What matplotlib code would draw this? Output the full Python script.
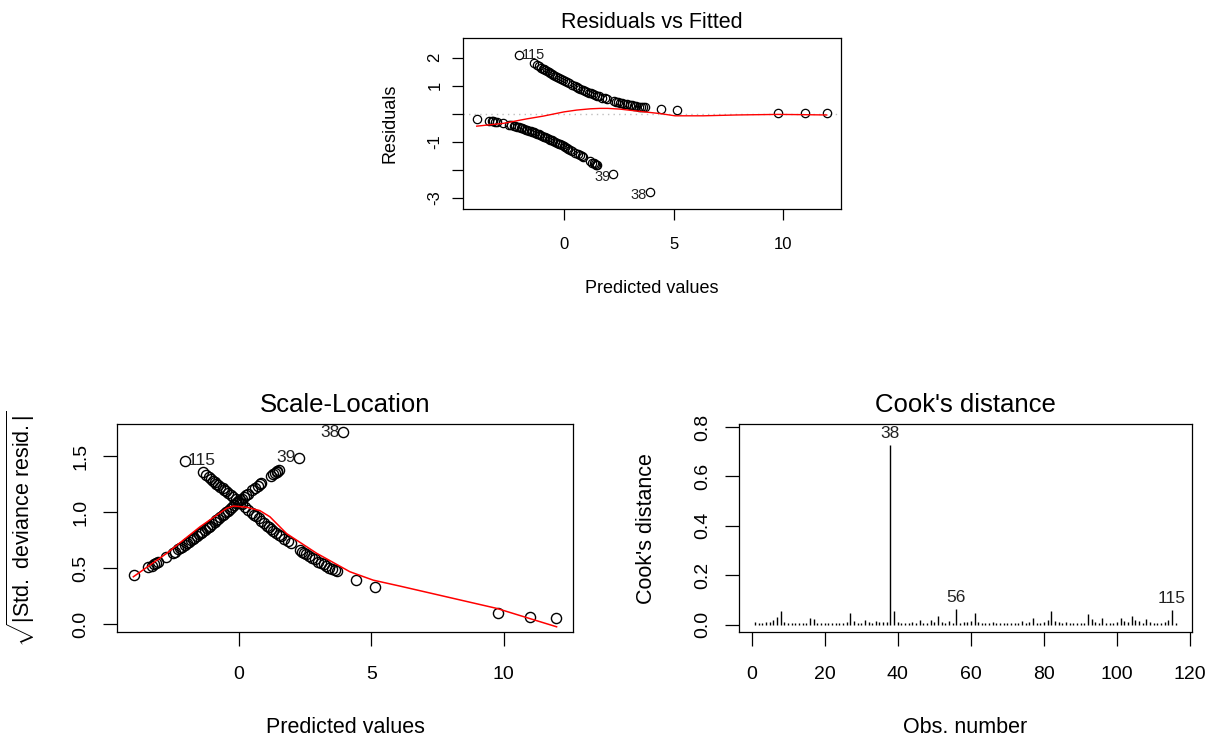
import numpy as np
import matplotlib.pyplot as plt

plt.rcParams['font.family'] = ['Liberation Sans', 'DejaVu Sans']
plt.rcParams['mathtext.fontset'] = 'custom'
plt.rcParams['mathtext.rm'] = 'Liberation Sans'
plt.rcParams['mathtext.it'] = 'Liberation Sans:italic'

# observations with outcome 1 (upper branch of the residual plot)
fit_pos = [-2.05, -1.37, -1.25, -1.15, -1.05, -0.98, -0.92, -0.85, -0.78, -0.70,
           -0.62, -0.55, -0.48, -0.40, -0.30, -0.22, -0.12, -0.05, 0.05, 0.12,
           0.22, 0.35, 0.50, 0.58, 0.65, 0.75, 0.85, 0.95, 1.05, 1.15,
           1.22, 1.30, 1.40, 1.50, 1.60, 1.72, 1.85, 1.95, 2.30, 2.38,
           2.45, 2.55, 2.65, 2.75, 2.88, 3.00, 3.10, 3.20, 3.30, 3.42,
           3.52, 3.62, 3.70, 4.42, 5.14, 9.77, 10.99, 11.98]
res_pos = [2.08, 1.79, 1.73, 1.69, 1.64, 1.61, 1.58, 1.55, 1.52, 1.49,
           1.45, 1.42, 1.39, 1.35, 1.31, 1.27, 1.23, 1.20, 1.16, 1.13,
           1.09, 1.03, 0.97, 0.94, 0.92, 0.88, 0.84, 0.81, 0.77, 0.74,
           0.72, 0.69, 0.66, 0.63, 0.61, 0.57, 0.54, 0.52, 0.44, 0.42,
           0.41, 0.39, 0.37, 0.35, 0.33, 0.31, 0.30, 0.28, 0.27, 0.25,
           0.24, 0.23, 0.22, 0.16, 0.11, 0.01, 0.006, 0.004]
sl_pos = [1.46, 1.355, 1.33, 1.315, 1.295, 1.28, 1.27, 1.255, 1.245, 1.23,
          1.215, 1.20, 1.19, 1.17, 1.155, 1.135, 1.12, 1.105, 1.085, 1.07,
          1.05, 1.02, 0.99, 0.975, 0.965, 0.945, 0.92, 0.905, 0.88, 0.865,
          0.85, 0.835, 0.815, 0.795, 0.785, 0.76, 0.74, 0.725, 0.665, 0.65,
          0.64, 0.625, 0.61, 0.595, 0.58, 0.56, 0.55, 0.535, 0.52, 0.505,
          0.495, 0.485, 0.475, 0.40, 0.33, 0.10, 0.07, 0.055]

# observations with outcome 0 (lower branch)
fit_neg = [-3.98, -3.42, -3.30, -3.22, -3.15, -3.05, -2.77, -2.50, -2.42, -2.30,
           -2.22, -2.15, -2.05, -1.98, -1.90, -1.82, -1.75, -1.68, -1.60, -1.52,
           -1.45, -1.38, -1.30, -1.22, -1.15, -1.08, -1.00, -0.92, -0.85, -0.78,
           -0.70, -0.62, -0.55, -0.48, -0.40, -0.32, -0.25, -0.18, -0.10, -0.02,
           0.05, 0.12, 0.20, 0.28, 0.35, 0.50, 0.62, 0.72, 0.80, 0.85,
           1.20, 1.28, 1.35, 1.42, 1.45, 1.50, 2.25, 3.92]
res_neg = [-0.19, -0.25, -0.27, -0.28, -0.29, -0.30, -0.35, -0.40, -0.41, -0.44,
           -0.45, -0.47, -0.49, -0.51, -0.53, -0.55, -0.57, -0.58, -0.61, -0.63,
           -0.65, -0.67, -0.69, -0.72, -0.74, -0.76, -0.79, -0.82, -0.84, -0.87,
           -0.90, -0.93, -0.95, -0.98, -1.01, -1.04, -1.07, -1.10, -1.14, -1.17,
           -1.20, -1.23, -1.26, -1.30, -1.33, -1.40, -1.45, -1.49, -1.53, -1.55,
           -1.71, -1.75, -1.78, -1.81, -1.82, -1.85, -2.17, -2.81]
sl_neg = [0.44, 0.51, 0.525, 0.535, 0.545, 0.555, 0.60, 0.64, 0.648, 0.67,
          0.678, 0.694, 0.708, 0.722, 0.736, 0.75, 0.763, 0.77, 0.79, 0.803,
          0.815, 0.828, 0.84, 0.858, 0.87, 0.882, 0.899, 0.916, 0.927, 0.943,
          0.96, 0.975, 0.986, 1.001, 1.016, 1.031, 1.046, 1.061, 1.08, 1.094,
          1.108, 1.122, 1.135, 1.153, 1.166, 1.197, 1.218, 1.235, 1.252, 1.26,
          1.325, 1.34, 1.352, 1.363, 1.368, 1.38, 1.488, 1.714]

# smoother lines (red)
smooth_res_x = [-3.98, -2.77, -1.70, -0.94, 0.0, 0.58, 1.2, 1.64, 2.0, 2.55,
                3.1, 3.62, 4.38, 5.06, 6.35, 7.87, 9.77, 10.99, 11.98]
smooth_res_y = [-0.45, -0.35, -0.19, -0.09, 0.06, 0.125, 0.17, 0.185, 0.185, 0.16,
                0.11, 0.065, 0.0, -0.08, -0.08, -0.05, -0.03, -0.04, -0.05]
smooth_sl_x = [-3.99, -2.73, -1.47, -0.465, -0.21, 0.29, 0.79, 1.17, 1.8, 2.94,
               4.19, 5.07, 6.08, 9.74, 12.0]
smooth_sl_y = [0.425, 0.634, 0.871, 1.036, 1.056, 1.045, 1.015, 0.96, 0.81, 0.634,
               0.47, 0.395, 0.342, 0.143, -0.021]

# Cook's distance per observation
cooks = [0.010, 0.006, 0.008, 0.009, 0.012, 0.018, 0.030, 0.055, 0.012, 0.006,
         0.005, 0.005, 0.006, 0.005, 0.007, 0.025, 0.022, 0.008, 0.006, 0.005,
         0.006, 0.005, 0.006, 0.007, 0.008, 0.012, 0.045, 0.015, 0.008, 0.006,
         0.020, 0.010, 0.008, 0.014, 0.012, 0.010, 0.009, 0.725, 0.055, 0.012,
         0.008, 0.007, 0.008, 0.009, 0.006, 0.020, 0.008, 0.006, 0.018, 0.012,
         0.033, 0.010, 0.008, 0.016, 0.007, 0.062, 0.008, 0.010, 0.012, 0.015,
         0.048, 0.010, 0.008, 0.006, 0.007, 0.010, 0.006, 0.005, 0.007, 0.006,
         0.008, 0.005, 0.007, 0.015, 0.008, 0.010, 0.025, 0.008, 0.006, 0.012,
         0.018, 0.053, 0.015, 0.010, 0.008, 0.012, 0.007, 0.006, 0.006, 0.007,
         0.008, 0.043, 0.022, 0.012, 0.008, 0.025, 0.008, 0.006, 0.007, 0.010,
         0.025, 0.015, 0.012, 0.035, 0.020, 0.015, 0.008, 0.022, 0.010, 0.008,
         0.007, 0.008, 0.010, 0.018, 0.058, 0.008]
cook_ids = [38, 56, 115]


def style_axes(ax, size, tick_len, pad_x, pad_y):
    for s in ax.spines.values():
        s.set_linewidth(0.9)
    ax.tick_params(direction='out', length=tick_len, width=0.9, labelsize=size)
    ax.tick_params(axis='x', pad=pad_x)
    ax.tick_params(axis='y', pad=pad_y, labelrotation=90)
    for lab in ax.get_yticklabels():
        lab.set_verticalalignment('center')


fig = plt.figure(figsize=(12.19, 7.38), dpi=100)

# ---- Residuals vs Fitted ----
ax1 = fig.add_axes([0.3801, 0.7164, 0.3096, 0.2325])
ax1.axhline(0, color='#BEBEBE', ls=(0, (1, 3)), lw=1)
ax1.plot(fit_pos, res_pos, 'o', mfc='none', mec='black', ms=6, mew=0.9)
ax1.plot(fit_neg, res_neg, 'o', mfc='none', mec='black', ms=6, mew=0.9)
ax1.plot(smooth_res_x, smooth_res_y, color='red', lw=1)
ax1.set_xlim(-4.59, 12.62)
ax1.set_ylim(-3.42, 2.71)
ax1.set_xticks([0, 5, 10])
ax1.set_yticks([-3, -2, -1, 0, 1, 2])
ax1.set_yticklabels(['-3', '', '-1', '', '1', '2'])
style_axes(ax1, 12, 8, 12, 7)
ax1.set_title('Residuals vs Fitted', fontsize=15.5, pad=7)
ax1.set_xlabel('Predicted values', fontsize=13)
ax1.xaxis.set_label_coords(0.5, -0.41)
ax1.set_ylabel('Residuals', fontsize=13)
ax1.yaxis.set_label_coords(-0.172, 0.5)
ax1.annotate('115', (fit_pos[0], res_pos[0]), xytext=(2, 0), textcoords='offset points',
             ha='left', va='center', fontsize=10.5, color='#222222')
ax1.annotate('39', (fit_neg[-2], res_neg[-2]), xytext=(-2, -2), textcoords='offset points',
             ha='right', va='center', fontsize=10.5, color='#222222')
ax1.annotate('38', (fit_neg[-1], res_neg[-1]), xytext=(-2, -2), textcoords='offset points',
             ha='right', va='center', fontsize=10.5, color='#222222')

# ---- Scale-Location ----
ax2 = fig.add_axes([0.09614, 0.1434, 0.3737, 0.2814])
ax2.plot(fit_pos, sl_pos, 'o', mfc='none', mec='black', ms=7.3, mew=1.0)
ax2.plot(fit_neg, sl_neg, 'o', mfc='none', mec='black', ms=7.3, mew=1.0)
ax2.plot(smooth_sl_x, smooth_sl_y, color='red', lw=1.1)
ax2.set_xlim(-4.60, 12.61)
ax2.set_ylim(-0.069, 1.783)
ax2.set_xticks([0, 5, 10])
ax2.set_yticks([0, 0.5, 1.0, 1.5])
ax2.set_yticklabels(['0.0', '0.5', '1.0', '1.5'])
style_axes(ax2, 14, 10, 14, 10)
ax2.set_title('Scale-Location', fontsize=18.5, pad=9)
ax2.set_xlabel('Predicted values', fontsize=15.5)
ax2.xaxis.set_label_coords(0.5, -0.41)
ax2.set_ylabel(r'$\sqrt{|\mathrm{Std.\ deviance\ resid.}|}$', fontsize=15.5)
ax2.yaxis.set_label_coords(-0.175, 0.5)
ax2.annotate('115', (fit_pos[0], sl_pos[0]), xytext=(2, 0), textcoords='offset points',
             ha='left', va='center', fontsize=12.5, color='#222222')
ax2.annotate('39', (fit_neg[-2], sl_neg[-2]), xytext=(-2, 0), textcoords='offset points',
             ha='right', va='center', fontsize=12.5, color='#222222')
ax2.annotate('38', (fit_neg[-1], sl_neg[-1]), xytext=(-2, 0), textcoords='offset points',
             ha='right', va='center', fontsize=12.5, color='#222222')

# ---- Cook's distance ----
ax3 = fig.add_axes([0.606, 0.1434, 0.3716, 0.2814])
obs = np.arange(1, len(cooks) + 1)
ax3.vlines(obs, 0, cooks, color='black', lw=1)
ax3.set_xlim(-3.5, 120.4)
ax3.set_ylim(-0.031, 0.81)
ax3.set_xticks([0, 20, 40, 60, 80, 100, 120])
ax3.set_yticks([0, 0.2, 0.4, 0.6, 0.8])
ax3.set_yticklabels(['0.0', '0.2', '0.4', '0.6', '0.8'])
style_axes(ax3, 14, 10, 14, 10)
ax3.set_title("Cook's distance", fontsize=18.5, pad=9)
ax3.set_xlabel('Obs. number', fontsize=15.5)
ax3.xaxis.set_label_coords(0.5, -0.41)
ax3.set_ylabel("Cook's distance", fontsize=15.5)
ax3.yaxis.set_label_coords(-0.18, 0.5)
for i in cook_ids:
    ax3.annotate(str(i), (i, cooks[i - 1]), xytext=(0, 3), textcoords='offset points',
                 ha='center', va='bottom', fontsize=12.5, color='#222222')

fig.savefig('out.png', dpi=100)
